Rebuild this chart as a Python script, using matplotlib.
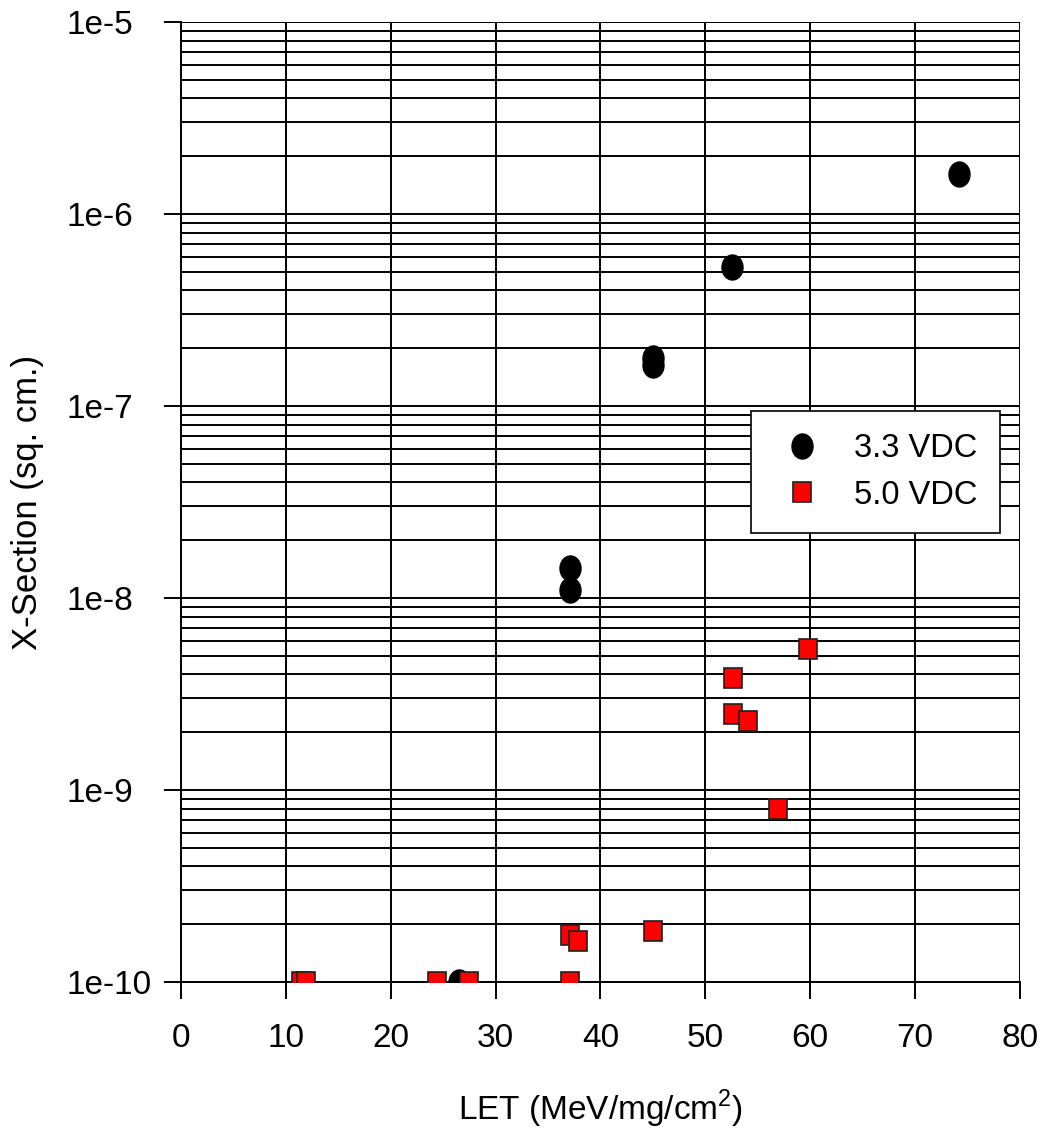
import matplotlib.pyplot as plt
from matplotlib.markers import MarkerStyle
from matplotlib.transforms import Affine2D
from matplotlib.ticker import LogLocator

plt.rcParams['font.family'] = ['Liberation Sans', 'DejaVu Sans']
plt.rcParams['mathtext.fontset'] = 'custom'
plt.rcParams['mathtext.rm'] = 'Liberation Sans'

# 3.3 VDC series (circles)
let_33 = [74.2, 52.5, 45.0, 45.0, 37.1, 37.1, 26.5]
xs_33 = [1.62e-6, 5.3e-7, 1.78e-7, 1.63e-7, 1.43e-8, 1.1e-8, 1.0e-10]

# 5.0 VDC series (squares)
let_50 = [11.4, 11.9, 24.4, 27.5, 37.1, 37.1, 37.9, 45.0,
          52.6, 52.6, 54.1, 56.9, 59.8]
xs_50 = [1.0e-10, 1.0e-10, 1.0e-10, 1.0e-10, 1.0e-10, 1.76e-10, 1.63e-10, 1.84e-10,
         3.83e-9, 2.5e-9, 2.28e-9, 7.95e-10, 5.4e-9]

x_ticks = [0, 10, 20, 30, 40, 50, 60, 70, 80]
y_ticks = [1e-10, 1e-9, 1e-8, 1e-7, 1e-6, 1e-5]
y_labels = ['1e-10', '1e-9', '1e-8', '1e-7', '1e-6', '1e-5']

fig = plt.figure(figsize=(10.5, 11.33), dpi=100)
ax = fig.add_axes([0.1724, 0.1333, 0.799, 0.8473])

circ = MarkerStyle('o', transform=Affine2D().scale(0.84, 1.0))
sq = MarkerStyle('s', transform=Affine2D().scale(0.9, 1.0))

ax.plot(let_33, xs_33, linestyle='none', marker=circ, markersize=18,
        color='black', markeredgecolor='black', label='3.3 VDC', zorder=3)
ax.plot(let_50, xs_50, linestyle='none', marker=sq, markersize=15,
        markerfacecolor='red', markeredgecolor='#202020', markeredgewidth=1.2,
        label='5.0 VDC', zorder=4)

ax.set_yscale('log')
ax.set_xlim(0, 80)
ax.set_ylim(1e-10, 1e-5)
ax.set_xticks(x_ticks)
ax.set_yticks(y_ticks)
ax.set_yticklabels(y_labels)
ax.yaxis.set_minor_locator(LogLocator(base=10, subs=range(2, 10), numticks=100))
ax.yaxis.set_minor_formatter(plt.NullFormatter())

ax.grid(True, which='major', color='black', linewidth=1.4)
ax.grid(True, which='minor', axis='y', color='black', linewidth=1.4)
ax.tick_params(which='major', direction='out', length=12.5, width=1.4,
               labelsize=24, colors='black')
ax.tick_params(axis='x', pad=17)
ax.tick_params(axis='y', pad=70)
ax.tick_params(which='minor', length=0)
for lbl in ax.get_yticklabels():
    lbl.set_horizontalalignment('left')
for s in ['top', 'right']:
    ax.spines[s].set_visible(False)
for s in ['left', 'bottom']:
    ax.spines[s].set_linewidth(1.4)

ax.set_xlabel('LET (MeV/mg/cm$^2$)', fontsize=24, va='top')
ax.xaxis.set_label_coords(0.5, -0.11)
ax.set_ylabel('X-Section (sq. cm.)', fontsize=25)
ax.yaxis.set_label_coords(-0.163, 0.5)

leg = ax.legend(loc='upper left', bbox_to_anchor=(0.679, 0.595), fontsize=23.5,
                frameon=True, fancybox=False, framealpha=1, edgecolor='black',
                handlelength=1.8, handletextpad=0.7, borderpad=0.68,
                labelspacing=0.48, borderaxespad=0, markerscale=1.0)
leg.get_frame().set_linewidth(1.2)

fig.savefig('out.png', dpi=100)
